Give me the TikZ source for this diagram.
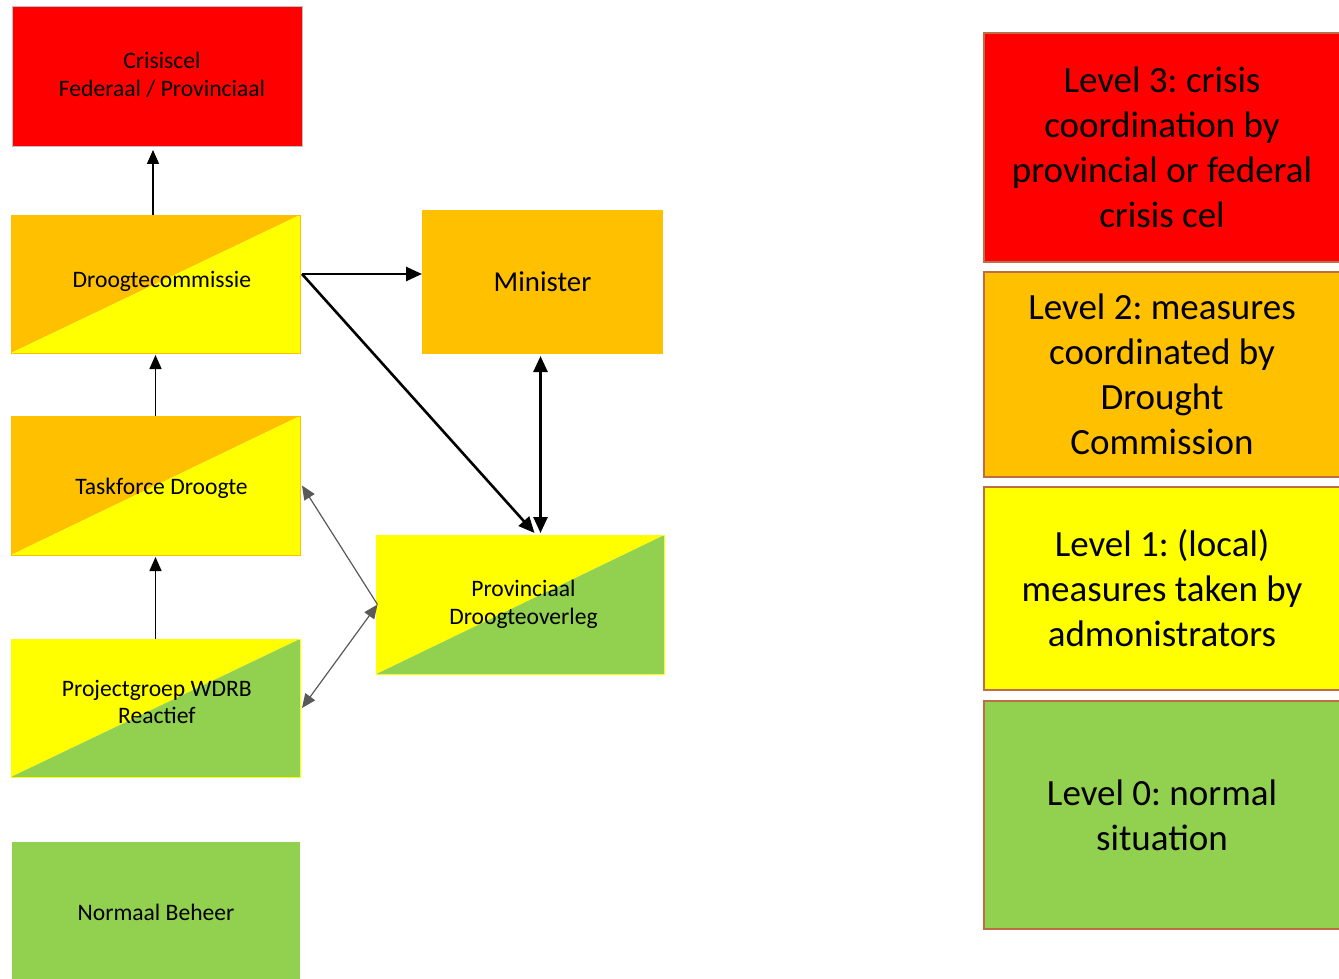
\documentclass[tikz,border=0pt]{standalone}
\usepackage{fontspec}
\setmainfont{Carlito}
\usetikzlibrary{arrows.meta,backgrounds}
\definecolor{cred}{HTML}{FF0000}
\definecolor{corange}{HTML}{FFC000}
\definecolor{cyellow}{HTML}{FFFF00}
\definecolor{cgreen}{HTML}{92D050}
\definecolor{lborder}{RGB}{190,110,70}
\definecolor{aline}{HTML}{595959}
\frenchspacing
\newcommand{\splitfill}[3]{%
  \fill[#2] (#1.south west) -- (#1.north west) -- (#1.north east) -- cycle;
  \fill[#3] (#1.south west) -- (#1.north east) -- (#1.south east) -- cycle;}
\tikzset{
  box/.style={rectangle, inner sep=0pt, outer sep=0pt, align=center, text=black,
    font=\fontsize{11.8}{13.8}\selectfont, line width=0.5pt},
  legendbox/.style={rectangle, inner sep=0pt, outer sep=0pt, align=center, text=black,
    draw=lborder, line width=1pt, minimum width=178pt,
    font=\fontsize{18.5}{22.5}\selectfont},
  thinarrow/.style={-{Triangle[length=7pt,width=6pt]}, line width=0.75pt, black},
  greyarrow/.style={-{Triangle[length=7pt,width=6pt]}, line width=0.6pt, aline},
  thickarrow/.style={-{Triangle[length=8pt,width=7pt]}, line width=1.3pt, black},
}
\begin{document}
\begin{tikzpicture}[x=0.5pt,y=-0.5pt]
\useasboundingbox (0,0) rectangle (1339,979);
% left diagram
\node[box, fill=cred, draw=black!25, minimum width=145pt, minimum height=70pt] (cc) at (157,77) {};
\node[box] (cct) at ([xshift=2.5pt,yshift=1.2pt]cc.center) {Crisiscel\\Federaal / Provinciaal};
\node[box, draw=corange, minimum width=144.5pt, minimum height=69pt] (dc) at (155.5,284) {};
\node[box] (dct) at ([xshift=3.2pt,yshift=1.5pt]dc.center) {Droogtecommissie};
\node[box, fill=corange, minimum width=120.5pt, minimum height=72pt, font=\fontsize{14.4}{17}\selectfont] (min) at (542.5,282) {Minister};
\node[box, draw=corange, minimum width=144.5pt, minimum height=69.5pt] (tf) at (155.5,485.5) {};
\node[box] (tft) at ([xshift=3pt,yshift=-1.5pt]tf.center) {Taskforce Droogte};
\node[box, draw=cyellow, minimum width=144pt, minimum height=69.5pt] (pd) at (520.5,604.5) {};
\node[box] (pdt) at ([xshift=1.5pt]pd.center) {Provinciaal\\Droogteoverleg};
\node[box, draw=cyellow, minimum width=144.5pt, minimum height=69pt] (pg) at (155.5,708) {};
\node[box] (pgt) at ([xshift=0.7pt,yshift=3pt]pg.center) {Projectgroep WDRB\\Reactief};
\node[box, fill=cgreen, minimum width=144pt, minimum height=70pt] (nb) at (156,912) {Normaal Beheer};
\begin{scope}[on background layer]
  \splitfill{dc}{corange}{cyellow}
  \splitfill{tf}{corange}{cyellow}
  \splitfill{pd}{cyellow}{cgreen}
  \splitfill{pg}{cyellow}{cgreen}
\end{scope}
% connectors
\coordinate (a1) at ([xshift=-1.25pt]dc.north);
\draw[thinarrow] (a1) -- ([yshift=-1.5pt]a1 |- cc.south);
\draw[thinarrow] (tf.north) -- ([yshift=-1pt]dc.south);
\draw[thinarrow] (pg.north) -- ([yshift=-1pt]tf.south);
\coordinate (dcout) at ([yshift=5pt,xshift=1pt]dc.east);
\draw[thickarrow] (dcout) -- (min.west |- dcout);
\draw[thickarrow] (dcout) -- ([xshift=7pt,yshift=1pt]pd.north);
\draw[thickarrow, {Triangle[length=8pt,width=7pt]}-{Triangle[length=8pt,width=7pt]}] ([xshift=-1pt,yshift=-1pt]min.south) -- ([xshift=10pt,yshift=1pt]pd.north);
\draw[greyarrow, {Triangle[length=7pt,width=6pt]}-] ([xshift=1pt]tf.east) -- ([xshift=0.5pt]pd.west);
\draw[greyarrow, {Triangle[length=7pt,width=6pt]}-{Triangle[length=7pt,width=6pt]}] ([xshift=1pt]pg.east) -- ([xshift=0.5pt]pd.west);
% legend
\node[legendbox, fill=cred, minimum height=114.5pt] (l3) at (1162,147.5) {Level 3: crisis\\coordination by\\provincial or federal\\crisis cel};
\node[legendbox, fill=corange, minimum height=102.5pt] (l2) at (1162,374.5) {Level 2: measures\\coordinated by\\Drought\\Commission};
\node[legendbox, fill=cyellow, minimum height=101.5pt] (l1) at (1162,588.5) {Level 1: (local)\\measures taken by\\admonistrators};
\node[legendbox, fill=cgreen, minimum height=114pt] (l0) at (1162,815) {Level 0: normal\\situation};
\end{tikzpicture}
\end{document}
